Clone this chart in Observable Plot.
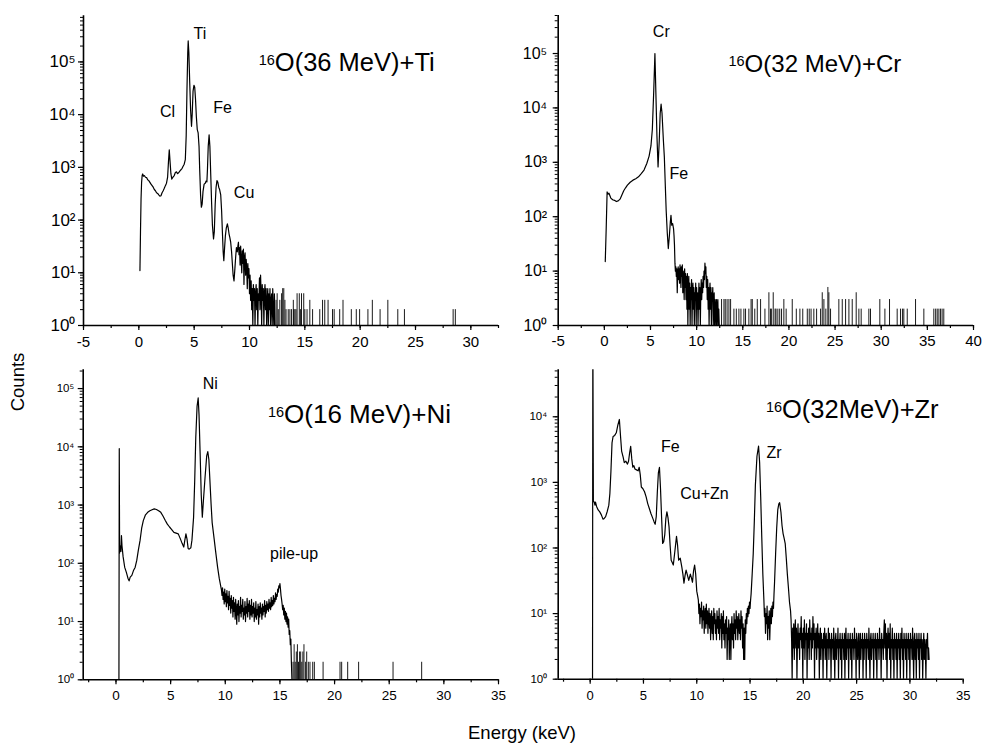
<!DOCTYPE html>
<html><head><meta charset="utf-8">
<script src="https://cdn.jsdelivr.net/npm/d3@7"></script>
<script src="https://cdn.jsdelivr.net/npm/@observablehq/plot@0.6"></script>
<style>
html,body{margin:0;padding:0;background:#fff;}
#fig{position:relative;width:982px;height:747px;font-family:"Liberation Sans",Arial,sans-serif;color:#000;overflow:hidden;}
.panel{position:absolute;}
.axlab{position:absolute;font-size:18.5px;line-height:1;white-space:nowrap;}
</style></head><body><div id="fig"></div>
<script>
// ---------- data ----------
const yTicks = [1, 10, 100, 1000, 10000, 100000];
const yTicksZr = [1, 10, 100, 1000, 10000];
const xTicksTi = [-5, 0, 5, 10, 15, 20, 25, 30];
const xTicksCr = [-5, 0, 5, 10, 15, 20, 25, 30, 35, 40];
const xTicksNi = [0, 5, 10, 15, 20, 25, 30, 35];
const xTicksZr = [0, 5, 10, 15, 20, 25, 30, 35];

// 16O(36 MeV)+Ti  [energy keV, counts]
const tiSpectrum = [[0.10,11],[0.15,60],[0.2,250],[0.25,520],[0.3,700],[0.35,750],[0.42,680],[0.5,700],[0.6,650],[0.7,640],[0.8,580],[0.9,560],[1.0,520],[1.1,480],[1.2,450],[1.3,420],[1.4,380],[1.5,360],[1.6,330],[1.7,320],[1.8,300],[1.9,285],[2.0,290],[2.1,330],[2.2,360],[2.3,400],[2.4,450],[2.5,500],[2.6,650],[2.68,1300],[2.75,2150],[2.82,1300],[2.9,750],[2.98,600],[3.1,660],[3.2,700],[3.3,800],[3.4,820],[3.5,760],[3.6,790],[3.7,850],[3.8,900],[3.9,950],[4.0,1050],[4.1,1150],[4.2,1400],[4.28,4000],[4.35,30000],[4.42,150000],[4.46,250000],[4.52,150000],[4.6,40000],[4.68,12000],[4.76,6000],[4.82,10000],[4.9,28000],[4.98,36000],[5.05,33000],[5.12,20000],[5.2,9000],[5.28,5200],[5.36,4500],[5.44,2500],[5.5,900],[5.58,300],[5.65,175],[5.72,200],[5.8,350],[5.9,480],[6.0,500],[6.08,550],[6.15,530],[6.2,900],[6.27,2500],[6.35,4150],[6.42,2500],[6.5,700],[6.58,200],[6.65,80],[6.75,44],[6.82,60],[6.9,200],[6.98,420],[7.06,560],[7.14,520],[7.22,420],[7.3,380],[7.4,300],[7.48,150],[7.55,60],[7.62,25],[7.68,17],[7.75,30],[7.82,50],[7.9,70],[8.0,85],[8.08,70],[8.15,55],[8.22,47],[8.3,38],[8.38,25],[8.45,15],[8.52,9],[8.6,7],[8.68,12],[8.75,20],[8.82,30],[8.9,25],[8.95,32],
[9.00,38],[9.05,22],[9.10,30],[9.15,14],[9.20,32],[9.25,18],[9.30,10],[9.35,26],[9.40,15],[9.45,28],[9.50,6],[9.55,20],[9.60,24],[9.65,9],[9.70,18],[9.75,12],[9.80,5],[9.85,15],[9.90,8],[9.95,12],[10.00,4],[10.05,9],[10.10,3],[10.15,7],[10.20,2],[10.25,5],[10.30,1],[10.35,6],[10.40,3],[10.45,5],[10.50,1],[10.55,4],[10.60,6],[10.65,2],[10.70,5],[10.75,1],[10.80,4],[10.85,3],[10.90,8],[10.95,2],[11.00,9],[11.05,4],[11.10,1],[11.15,6],[11.20,3],[11.25,5],[11.30,1],[11.35,4],[11.40,6],[11.45,2],[11.50,5],[11.55,1],[11.60,3],[11.65,5],[11.70,1],[11.75,4],[11.80,2],[11.85,5],[11.90,1],[11.95,3],[12.00,4],[12.05,1],[12.10,5],[12.15,2],[12.20,1],[12.25,4],[12.30,1]];
const tiSpikes = [[12.4,3],[12.5,4],[12.6,2],[12.74,3],[12.9,4],[13.0,5],[13.1,5],[13.2,3],[13.3,2],[13.5,2],[13.65,2],[13.8,2],[13.96,3],[14.0,2],[14.1,2],[14.2,2],[14.3,4],[14.5,4],[14.6,2],[14.7,4],[14.9,4],[15.0,2],[15.2,2],[15.45,3],[15.7,2],[16.35,2],[16.6,3],[16.8,3],[17.1,3],[17.5,2],[17.65,2],[18.15,2],[18.45,3],[19.2,2],[19.65,2],[19.95,2],[20.7,2],[21.1,3],[21.8,2],[22.5,3],[23.4,2],[24.0,2],[28.4,2],[28.6,2]];
const tiLabels = [["Ti",5.51,334000],["Cl",2.59,11300],["Fe",7.56,13600],["Cu",9.51,321]];

// 16O(32 MeV)+Cr
const crSpectrum = [[0.10,15],[0.2,60],[0.3,285],[0.4,260],[0.5,270],[0.7,220],[0.9,205],[1.1,200],[1.3,190],[1.5,195],[1.7,210],[1.9,250],[2.1,300],[2.3,340],[2.5,380],[2.8,430],[3.1,470],[3.4,500],[3.7,540],[4.0,620],[4.3,720],[4.6,950],[4.85,1300],[5.05,2000],[5.2,4000],[5.35,20000],[5.48,100000],[5.58,20000],[5.7,3000],[5.82,820],[5.95,2500],[6.05,8000],[6.15,11700],[6.25,8000],[6.4,2500],[6.5,1260],[6.6,400],[6.7,130],[6.82,50],[6.93,26],[7.05,45],[7.15,80],[7.22,106],[7.3,70],[7.4,75],[7.5,60],[7.55,45],
[7.60,30],[7.65,14],[7.70,10],[7.75,12],[7.80,8],[7.85,11],[7.90,4],[7.95,10],[8.00,12],[8.05,7],[8.10,11],[8.15,6],[8.20,13],[8.25,9],[8.30,5],[8.35,12],[8.40,8],[8.45,13],[8.50,4],[8.55,10],[8.60,7],[8.65,3],[8.70,11],[8.75,5],[8.80,9],[8.85,3],[8.90,8],[8.95,2],[9.00,9],[9.05,1],[9.10,5],[9.15,8],[9.20,2],[9.25,6],[9.30,1],[9.35,5],[9.40,3],[9.45,7],[9.50,1],[9.55,4],[9.60,6],[9.65,2],[9.70,5],[9.75,1],[9.80,4],[9.85,3],[9.90,6],[9.95,1],[10.00,5],[10.05,2],[10.10,4],[10.15,1],[10.20,3],[10.25,6],[10.30,2],[10.35,5],[10.40,1],[10.45,4],[10.50,7],[10.55,3],[10.60,6],[10.65,4],[10.70,8],[10.75,5],[10.80,10],[10.85,7],[10.90,14],[10.95,9],[11.00,12],[11.05,5],[11.10,8],[11.15,3],[11.20,7],[11.25,2],[11.30,5],[11.35,1],[11.40,4],[11.45,6],[11.50,2],[11.55,5],[11.60,1],[11.65,4],[11.70,3],[11.75,5],[11.80,1],[11.85,3],[11.90,4],[11.95,1],[12.00,3],[12.05,2],[12.10,1],[12.15,3],[12.20,1],[12.25,2],[12.30,3],[12.35,1],[12.40,2],[12.45,1],[12.50,1]];
const crSpikes = [[12.7,3],[12.96,3],[13.1,3],[13.3,3],[13.5,3],[13.68,3],[14.04,2],[14.3,2],[14.58,2],[14.8,2],[15.12,2],[15.3,2],[15.66,2],[15.9,3],[16.03,3],[16.3,2],[16.57,3],[16.93,3],[17.4,2],[17.83,4],[18.0,2],[18.1,2],[18.3,4],[18.5,2],[18.6,2],[18.8,2],[19.0,2],[19.2,2],[19.45,3],[19.7,2],[20.36,3],[20.8,2],[21.19,2],[21.5,2],[21.99,2],[22.2,2],[22.4,2],[22.7,2],[23.0,2],[23.43,2],[23.61,4],[23.79,3],[24.0,2],[24.22,5],[24.33,4],[24.51,2],[25.41,3],[25.78,3],[26.14,3],[26.5,3],[26.86,3],[27.29,4],[27.58,2],[27.83,2],[28.66,2],[28.84,2],[29.85,3],[30.4,2],[30.9,3],[31.73,2],[32.09,2],[32.3,2],[32.45,2],[32.82,2],[33.72,3],[34.62,2],[35.7,2],[35.9,2],[36.07,2],[36.25,2],[36.43,2],[36.6,2],[36.78,2]];
const crLabels = [["Cr",6.17,252000],["Fe",8.08,620]];

// 16O(16 MeV)+Ni
const niSpectrum = [[0.27,1],[0.3,9300],[0.33,150],[0.38,200],[0.45,160],[0.5,300],[0.55,200],[0.65,130],[0.8,85],[0.95,70],[1.1,55],[1.2,50],[1.3,58],[1.45,62],[1.6,75],[1.75,85],[1.9,112],[2.05,170],[2.2,245],[2.35,400],[2.5,540],[2.7,680],[2.9,750],[3.1,800],[3.3,830],[3.5,860],[3.7,840],[3.9,800],[4.1,750],[4.3,650],[4.5,550],[4.7,470],[4.9,420],[5.1,380],[5.3,340],[5.5,330],[5.7,320],[5.9,260],[6.05,220],[6.2,190],[6.3,250],[6.4,320],[6.5,260],[6.6,180],[6.7,175],[6.85,185],[6.95,250],[7.1,615],[7.2,2500],[7.3,14500],[7.42,50000],[7.52,69000],[7.6,35000],[7.7,7500],[7.8,1500],[7.9,620],[8.0,1200],[8.15,3000],[8.3,7000],[8.4,8300],[8.5,6000],[8.6,2500],[8.7,1050],[8.8,500],[8.9,350],[9.0,245],[9.1,170],[9.2,120],[9.3,85],[9.45,55],[9.6,39],
[9.65,35],[9.70,28],[9.75,38],[9.80,24],[9.85,32],[9.90,20],[9.95,36],[10.00,22],[10.05,30],[10.10,18],[10.15,34],[10.20,21],[10.25,27],[10.30,16],[10.35,33],[10.40,19],[10.45,25],[10.50,14],[10.55,28],[10.60,17],[10.65,23],[10.70,12],[10.75,26],[10.80,15],[10.85,21],[10.90,11],[10.95,24],[11.00,16],[11.05,9],[11.10,20],[11.15,13],[11.20,23],[11.25,10],[11.30,18],[11.35,14],[11.40,26],[11.45,12],[11.50,19],[11.55,15],[11.60,24],[11.65,11],[11.70,17],[11.75,13],[11.80,22],[11.85,10],[11.90,18],[11.95,14],[12.00,25],[12.05,12],[12.10,20],[12.15,15],[12.20,23],[12.25,11],[12.30,19],[12.35,13],[12.40,24],[12.45,12],[12.50,18],[12.55,14],[12.60,21],[12.65,10],[12.70,17],[12.75,12],[12.80,22],[12.85,11],[12.90,16],[12.95,13],[13.00,20],[13.05,9],[13.10,18],[13.15,12],[13.20,21],[13.25,14],[13.30,17],[13.35,11],[13.40,20],[13.45,13],[13.50,18],[13.55,15],[13.60,23],[13.65,12],[13.70,19],[13.75,14],[13.80,22],[13.85,16],[13.90,20],[13.95,15],[14.00,24],[14.05,17],[14.10,21],[14.15,16],[14.20,26],[14.25,18],[14.30,23],[14.35,19],[14.40,28],[14.45,20],[14.50,25],[14.55,22],[14.60,31],[14.65,24],[14.70,29],[14.75,27],[14.80,36],[14.85,32],[14.90,41],[14.95,38],[15.00,45],[15.05,36],[15.10,28],[15.15,24],[15.20,20],[15.25,16],[15.30,19],[15.35,13],[15.40,17],[15.45,11],[15.50,15],[15.55,10],[15.60,14],[15.65,9],[15.70,12],[15.75,8],[15.80,11],[15.85,6],[15.90,7],[15.95,4],[16.00,5],[16.05,2],[16.10,1]];
const niSpikes = [[16.2,2],[16.3,4],[16.4,2],[16.5,3],[16.6,4],[16.7,2],[16.8,3],[16.9,3],[17.0,2],[17.1,3],[17.2,4],[17.35,2],[17.45,3],[17.6,2],[17.75,2],[18.0,2],[18.15,2],[18.95,2],[20.5,2],[20.65,2],[21.2,2],[22.2,2],[25.35,2],[27.97,2]];
const niLabels = [["Ni",8.62,120000],["pile-up",16.3,145]];

// 16O(32MeV)+Zr
const zrSpectrum = [[0.22,1],[0.25,200000],[0.3,520],[0.38,500],[0.45,450],[0.5,500],[0.6,430],[0.75,380],[0.9,355],[1.05,320],[1.2,275],[1.3,280],[1.45,300],[1.6,360],[1.75,450],[1.85,680],[1.95,1500],[2.05,4000],[2.15,5000],[2.3,5200],[2.45,5700],[2.6,7500],[2.74,9100],[2.85,5000],[2.95,3000],[3.1,2400],[3.2,2000],[3.35,2100],[3.5,1900],[3.6,2100],[3.7,2800],[3.8,3550],[3.9,2300],[4.0,1700],[4.1,1800],[4.2,1600],[4.35,1550],[4.5,1500],[4.6,1700],[4.7,1300],[4.8,850],[4.95,800],[5.1,720],[5.25,600],[5.4,475],[5.55,400],[5.7,335],[5.85,290],[6.0,250],[6.1,230],[6.2,300],[6.3,700],[6.4,1400],[6.5,1700],[6.6,800],[6.7,297],[6.8,117],[6.9,125],[7.0,160],[7.1,280],[7.2,355],[7.3,290],[7.4,210],[7.5,110],[7.6,65],[7.7,60],[7.8,55],[7.95,90],[8.1,150],[8.2,110],[8.3,65],[8.45,70],[8.6,51],[8.7,40],[8.8,29],[8.9,38],[9.0,46],[9.1,40],[9.25,32],[9.4,40],[9.5,35],[9.6,30],[9.7,45],[9.8,55],[9.9,40],[10.0,22],[10.1,18],
[10.15,16],[10.20,10],[10.25,14],[10.30,7],[10.35,12],[10.40,9],[10.45,15],[10.50,6],[10.55,11],[10.60,8],[10.65,13],[10.70,5],[10.75,10],[10.80,12],[10.85,6],[10.90,14],[10.95,7],[11.00,11],[11.05,5],[11.10,9],[11.15,12],[11.20,6],[11.25,10],[11.30,4],[11.35,8],[11.40,11],[11.45,5],[11.50,9],[11.55,4],[11.60,12],[11.65,7],[11.70,10],[11.75,5],[11.80,8],[11.85,4],[11.90,11],[11.95,6],[12.00,9],[12.05,5],[12.10,12],[12.15,4],[12.20,8],[12.25,6],[12.30,10],[12.35,3],[12.40,9],[12.45,5],[12.50,11],[12.55,4],[12.60,7],[12.65,3],[12.70,8],[12.75,5],[12.80,9],[12.85,2],[12.90,6],[12.95,4],[13.00,8],[13.05,2],[13.10,5],[13.15,7],[13.20,2],[13.25,6],[13.30,9],[13.35,4],[13.40,7],[13.45,3],[13.50,10],[13.55,5],[13.60,8],[13.65,4],[13.70,11],[13.75,6],[13.80,9],[13.85,4],[13.90,7],[13.95,10],[14.00,5],[14.05,8],[14.10,4],[14.15,11],[14.20,6],[14.25,9],[14.30,3],[14.35,7],[14.40,2],[14.45,6],[14.50,2],[14.55,8],[14.60,5],[14.65,10],[14.70,7],[14.75,12],[14.80,9],[14.85,13],[14.90,10],[14.95,15],[15.00,12],[15.05,16],
[15.1,20],[15.2,40],[15.3,82],[15.4,250],[15.5,900],[15.65,2500],[15.8,3560],[15.9,2000],[16.0,600],[16.1,147],[16.2,40],
[16.30,16],[16.35,9],[16.40,12],[16.45,5],[16.50,10],[16.55,7],[16.60,13],[16.65,4],[16.70,9],[16.75,6],[16.80,11],[16.85,4],[16.90,8],[16.95,12],[17.00,7],[17.05,13],[17.10,9],[17.15,15],[17.20,12],[17.25,20],
[17.3,30],[17.4,82],[17.5,200],[17.6,380],[17.7,470],[17.78,490],[17.9,350],[18.0,220],[18.1,166],[18.2,140],[18.3,117],[18.4,70],[18.5,40],[18.6,25],[18.7,15],[18.8,11],
[18.85,8],[18.90,4],[18.95,1],[19.00,6],[19.05,3],[19.10,7],[19.15,2],[19.20,5],[19.25,8],[19.30,3],[19.35,6],[19.40,1],[19.45,4],[19.50,7],[19.55,3],[19.60,5],[19.65,2],[19.70,6],[19.75,4],[19.80,9],[19.85,3],[19.90,5],[19.95,1],[20.00,6],[20.05,3],[20.10,8],[20.15,2],[20.20,5],[20.25,4],[20.30,7],[20.35,1],[20.40,5],[20.45,3],[20.50,6],[20.55,2],[20.60,8],[20.65,4],[20.70,5],[20.75,2],[20.80,6],[20.85,3],[20.90,9],[20.95,4],[21.00,7],[21.05,1],[21.10,5],[21.15,3],[21.20,6],[21.25,2],[21.30,4],[21.35,7],[21.40,3],[21.45,5],[21.50,1],[21.55,4],[21.60,6],[21.65,2],[21.70,5],[21.75,3],[21.80,4],[21.85,1],[21.90,5],[21.95,3],[22.00,6],[22.05,2],[22.10,4],[22.15,5],[22.20,1],[22.25,4],[22.30,3],[22.35,6],[22.40,2],[22.45,5],[22.50,3],[22.55,4],[22.60,1],[22.65,5],[22.70,3],[22.75,4],[22.80,2],[22.85,6],[22.90,3],[22.95,1],[23.00,4],[23.05,5],[23.10,2],[23.15,4],[23.20,3],[23.25,6],[23.30,1],[23.35,4],[23.40,3],[23.45,5],[23.50,2],[23.55,4],[23.60,1],[23.65,5],[23.70,3],[23.75,4],[23.80,2],[23.85,5],[23.90,1],[23.95,4],[24.00,6],[24.05,2],[24.10,4],[24.15,3],[24.20,5],[24.25,1],[24.30,4],[24.35,3],[24.40,5],[24.45,2],[24.50,4],[24.55,1],[24.60,5],[24.65,3],[24.70,4],[24.75,2],[24.80,6],[24.85,3],[24.90,4],[24.95,1],[25.00,5],[25.05,3],[25.10,2],[25.15,4],[25.20,5],[25.25,1],[25.30,3],[25.35,5],[25.40,2],[25.45,4],[25.50,3],[25.55,5],[25.60,1],[25.65,4],[25.70,2],[25.75,5],[25.80,3],[25.85,4],[25.90,1],[25.95,5],[26.00,3],[26.05,4],[26.10,2],[26.15,6],[26.20,3],[26.25,1],[26.30,4],[26.35,5],[26.40,2],[26.45,4],[26.50,3],[26.55,5],[26.60,1],[26.65,4],[26.70,3],[26.75,5],[26.80,2],[26.85,4],[26.90,1],[26.95,5],[27.00,3],[27.05,4],[27.10,2],[27.15,6],[27.20,3],[27.25,4],[27.30,1],[27.35,5],[27.40,3],[27.45,4],[27.50,2],[27.55,5],[27.60,8],[27.65,3],[27.70,7],[27.75,2],[27.80,5],[27.85,1],[27.90,4],[27.95,6],[28.00,3],[28.05,5],[28.10,2],[28.15,7],[28.20,1],[28.25,4],[28.30,3],[28.35,6],[28.40,2],[28.45,4],[28.50,1],[28.55,5],[28.60,3],[28.65,4],[28.70,2],[28.75,5],[28.80,1],[28.85,4],[28.90,3],[28.95,5],[29.00,2],[29.05,4],[29.10,1],[29.15,5],[29.20,3],[29.25,6],[29.30,2],[29.35,4],[29.40,1],[29.45,5],[29.50,3],[29.55,4],[29.60,2],[29.65,5],[29.70,1],[29.75,4],[29.80,3],[29.85,5],[29.90,2],[29.95,4],[30.00,1],[30.05,5],[30.10,3],[30.15,4],[30.20,2],[30.25,6],[30.30,3],[30.35,1],[30.40,4],[30.45,5],[30.50,2],[30.55,4],[30.60,1],[30.65,5],[30.70,3],[30.75,4],[30.80,2],[30.85,5],[30.90,1],[30.95,4],[31.00,3],[31.05,5],[31.10,2],[31.15,4],[31.20,1],[31.25,3],[31.30,5],[31.35,2],[31.40,4],[31.45,3],[31.50,1],[31.55,4],[31.60,3],[31.65,5],[31.70,2],[31.75,3],[31.80,2]];
const zrSpikes = [];
const zrLabels = [["Fe",7.53,3480],["Cu+Zn",10.73,660],["Zr",17.26,2820]];

const titles = {
  ti: {e: 12.29, c: 67600, text: "O(36 MeV)+Ti"},
  cr: {e: 15.2, c: 46200, text: "O(32 MeV)+Cr"},
  ni: {e: 15.38, c: 25200, text: "O(16 MeV)+Ni"},
  zr: {e: 18.0, c: 9440, text: "O(32MeV)+Zr"}
};

// ---------- drawing ----------
const SUP = {"0":"⁰","1":"¹","2":"²","3":"³","4":"⁴","5":"⁵","6":"⁶","7":"⁷","8":"⁸","9":"⁹"};
const logFmt = v => "10" + String(Math.round(Math.log10(v))).split("").map(c => SUP[c]).join("");

function panel(p) {
  const [x0, x1] = p.xDomain;
  const xMinor = d3.range(Math.ceil(x0 / 2.5) * 2.5, x1 + 0.001, 2.5);
  const svg = Plot.plot({
    width: p.width, height: p.height,
    marginLeft: p.ml, marginRight: p.mr, marginTop: p.mt, marginBottom: p.mb,
    style: {fontFamily: '"Liberation Sans", Arial, sans-serif', color: "#000", background: "none", overflow: "visible"},
    x: {domain: p.xDomain},
    y: {type: "log", domain: p.yDomain},
    marks: [
      Plot.axisX(xMinor, {tickSize: 3, tickFormat: () => "", label: null, strokeWidth: 1.2}),
      Plot.axisX(p.xTicks, {tickSize: 5, tickPadding: p.xPad, tickFormat: d => String(d), label: null, fontSize: p.xFont, strokeWidth: 1.2}),
      Plot.axisY({ticks: 80, tickSize: 3, tickFormat: () => "", label: null, strokeWidth: 1}),
      Plot.axisY(p.yTicks, {tickSize: 5, tickPadding: p.yPad, tickFormat: logFmt, label: null, fontSize: p.yFont, strokeWidth: 1.2}),
      Plot.ruleX(p.spikes, {x: d => d[0], y1: () => 1, y2: d => d[1], stroke: "#000", strokeWidth: 0.9}),
      Plot.line(p.spectrum, {x: d => d[0], y: d => d[1], stroke: "#000", strokeWidth: 1.2, clip: true}),
      Plot.ruleX([x0], {stroke: "#000", strokeWidth: 1.6}),
      Plot.ruleY([1], {stroke: "#000", strokeWidth: 1.6}),
      Plot.text(p.labels, {x: d => d[1], y: d => d[2], text: d => d[0], fontSize: 16, fill: "#000"}),
      Plot.text([p.title], {x: d => d.e, y: d => d.c, text: d => d.text, textAnchor: "start", lineAnchor: "bottom", fontSize: p.titleFont, fill: "#000"}),
      Plot.text([p.title], {x: d => d.e, y: d => d.c, text: () => "16", textAnchor: "end", lineAnchor: "bottom", dy: -6, fontSize: 14.5, fill: "#000"})
    ]
  });
  const div = document.createElement("div");
  div.className = "panel";
  div.style.left = p.left + "px";
  div.style.top = p.top + "px";
  div.appendChild(svg);
  return div;
}

const fig = document.getElementById("fig");
fig.appendChild(panel({left: 0, top: 0, width: 500, height: 355, ml: 83, mr: 2, mt: 15.3, mb: 30,
  xDomain: [-5, 32.5], yDomain: [1, 7.5e5], xTicks: xTicksTi, yTicks: yTicks, xFont: 15, yFont: 17, xPad: 6, yPad: 3,
  spectrum: tiSpectrum, spikes: tiSpikes, labels: tiLabels, title: titles.ti, titleFont: 25.5}));
fig.appendChild(panel({left: 490, top: 0, width: 492, height: 355, ml: 67.7, mr: 9, mt: 15, mb: 30,
  xDomain: [-5, 40], yDomain: [1, 5e5], xTicks: xTicksCr, yTicks: yTicks, xFont: 15, yFont: 16, xPad: 5, yPad: 6,
  spectrum: crSpectrum, spikes: crSpikes, labels: crLabels, title: titles.cr, titleFont: 24}));
fig.appendChild(panel({left: 0, top: 355, width: 500, height: 355, ml: 82.7, mr: 2, mt: 14.3, mb: 30.7,
  xDomain: [-3, 35], yDomain: [1, 2.1e5], xTicks: xTicksNi, yTicks: yTicks, xFont: 13.5, yFont: 11.5, xPad: 6, yPad: 4,
  spectrum: niSpectrum, spikes: niSpikes, labels: niLabels, title: titles.ni, titleFont: 26}));
fig.appendChild(panel({left: 490, top: 355, width: 492, height: 355, ml: 67.7, mr: 19.3, mt: 14.3, mb: 31.3,
  xDomain: [-3, 35], yDomain: [1, 5.2e4], xTicks: xTicksZr, yTicks: yTicksZr, xFont: 13, yFont: 11.5, xPad: 7, yPad: 6,
  spectrum: zrSpectrum, spikes: zrSpikes, labels: zrLabels, title: titles.zr, titleFont: 25.5}));

const yl = document.createElement("div");
yl.className = "axlab"; yl.textContent = "Counts";
yl.style.left = "18px"; yl.style.top = "382px";
yl.style.transform = "translate(-50%,-50%) rotate(-90deg)";
fig.appendChild(yl);
const xl = document.createElement("div");
xl.className = "axlab"; xl.textContent = "Energy (keV)";
xl.style.left = "522px"; xl.style.top = "724px";
xl.style.transform = "translateX(-50%)";
fig.appendChild(xl);
</script></body></html>
